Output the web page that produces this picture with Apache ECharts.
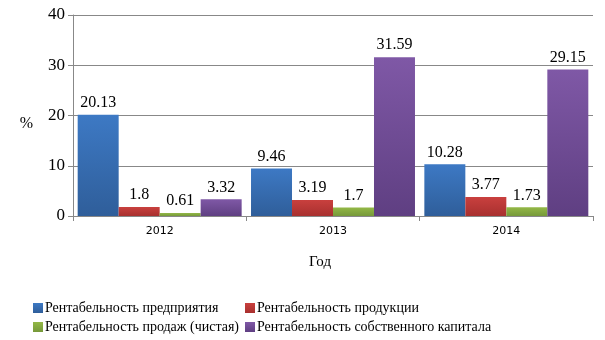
<!DOCTYPE html>
<html><head><meta charset="utf-8">
<script src="https://cdn.jsdelivr.net/npm/echarts@6/dist/echarts.min.js"></script>
<style>html,body{margin:0;padding:0;background:#fff}#c{width:605px;height:340px}</style>
</head><body><div id="c"></div>
<script>
const categories = ['2012', '2013', '2014'];
const seriesNames = ['Рентабельность предприятия', 'Рентабельность продукции', 'Рентабельность продаж (чистая)', 'Рентабельность собственного капитала'];
const enterprise = [20.13, 9.46, 10.28];
const products = [1.8, 3.19, 3.77];
const sales = [0.61, 1.7, 1.73];
const equity = [3.32, 31.59, 29.15];
const yTicks = [0, 10, 20, 30, 40];

const colors = [['#3d79c4', '#2f5e9a'], ['#c9403e', '#a8302f'], ['#93b846', '#76993a'], ['#7f58a6', '#5f3f82']];
const values = [enterprise, products, sales, equity];
const serif = 'Liberation Serif';
const legendPos = [[33, 301], [245, 301], [33, 320], [245, 320]];
const legendText = { fontFamily: serif, fontSize: 14, color: '#000', padding: [0, 0, 0, -3] };

const chart = echarts.init(document.getElementById('c'));
chart.setOption({
  animation: false,
  textStyle: { fontFamily: serif },
  grid: { left: 73, right: 12, top: 15, bottom: 124 },
  legend: seriesNames.map((n, i) => ({
    id: 'lg' + i, data: [{ name: n, textStyle: legendText }], left: legendPos[i][0], top: legendPos[i][1], padding: 0,
    itemWidth: 10, itemHeight: 10, icon: 'rect',
    textStyle: legendText
  })),
  xAxis: {
    type: 'category', data: categories,
    name: 'Год', nameLocation: 'middle', nameGap: 39,
    nameTextStyle: { fontFamily: serif, fontSize: 15, color: '#000', padding: [0, 26, 0, 0] },
    axisLine: { lineStyle: { color: '#888' } },
    axisTick: { show: true, length: 5, lineStyle: { color: '#888' } },
    axisLabel: { fontFamily: 'DejaVu Sans', fontSize: 11, color: '#000', margin: 10 }
  },
  yAxis: {
    type: 'value', min: 0, max: 40, interval: 10,
    name: '%', nameLocation: 'middle', nameGap: 40, nameRotate: 0,
    nameTextStyle: { fontFamily: serif, fontSize: 16, color: '#000', verticalAlign: 'top' },
    axisLine: { show: true, lineStyle: { color: '#888' } },
    axisTick: { show: true, length: 5, lineStyle: { color: '#888' } },
    axisLabel: { fontFamily: serif, fontSize: 17, color: '#000', margin: 8,
      formatter: v => yTicks.includes(v) ? String(v) : '' },
    splitLine: { lineStyle: { color: '#888' } }
  },
  series: values.map((d, i) => ({
    name: seriesNames[i], type: 'bar', data: d,
    barGap: '0%', barCategoryGap: '5.4%',
    itemStyle: { color: new echarts.graphic.LinearGradient(0, 0, 0, 1, [{ offset: 0, color: colors[i][0] }, { offset: 1, color: colors[i][1] }]) },
    label: { show: true, position: 'top', distance: 4, fontFamily: serif, fontSize: 16, color: '#000' }
  }))
});
</script></body></html>
